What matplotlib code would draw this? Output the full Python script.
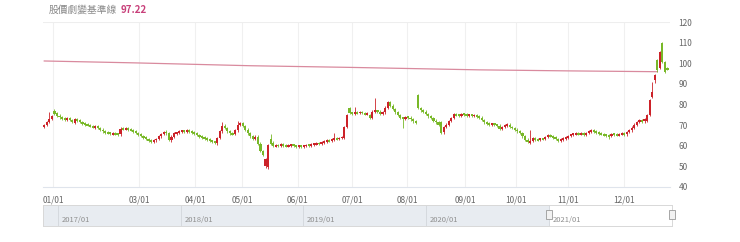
"""
Candlestick chart with baseline and navigator strip
"""

import numpy as np
import matplotlib.pyplot as plt
from matplotlib.patches import Rectangle

plt.rcParams['font.family'] = ['Noto Sans CJK TC', 'DejaVu Sans']

TITLE = "股價劇變基準線"
LAST_VALUE = "97.22"

# daily open / close, one entry per trading day
opens = [
    69.2, 70.0, 71.4, 73.0, 77.0, 75.8, 74.6, 73.8, 73.4, 72.8,
    73.4, 72.5, 71.2, 72.8, 72.2, 71.4, 70.8, 70.3, 70.0, 69.5,
    68.8, 69.4, 68.6, 67.8, 67.0, 66.5, 66.2, 65.8, 66.0, 65.6,
    65.5, 68.3, 68.0, 68.4, 67.9, 67.6, 67.0, 66.2, 65.5, 64.8,
    64.0, 63.3, 62.6, 62.0, 62.6, 63.4, 64.6, 65.6, 66.8, 66.0,
    62.6, 64.4, 66.0, 66.3, 66.8, 67.2, 66.9, 67.4, 67.0, 66.5,
    66.0, 65.2, 64.6, 64.0, 63.5, 63.0, 62.4, 61.9, 61.2, 64.0,
    67.0, 69.8, 68.5, 67.0, 66.0, 65.6, 67.5, 70.3, 70.8, 69.5,
    67.8, 66.0, 64.8, 63.2, 64.4, 61.0, 57.5, 50.0, 49.5, 63.5,
    61.5, 59.8, 60.3, 60.0, 60.5, 60.2, 59.8, 60.1, 60.4, 60.0,
    59.7, 59.9, 59.6, 59.9, 60.3, 60.1, 60.6, 60.9, 61.2, 61.0,
    61.6, 62.0, 62.6, 62.3, 63.0, 63.5, 63.2, 63.8, 64.0, 69.2,
    78.2, 76.0, 75.6, 76.2, 75.8, 76.4, 75.9, 75.3, 74.8, 73.5,
    76.5, 76.8, 76.5, 75.6, 76.2, 78.5, 81.0, 79.5, 77.8, 76.2,
    75.0, 73.5, 73.0, 74.0, 73.6, 72.8, 71.8, 84.5, 78.2, 77.2,
    76.5, 75.4, 74.2, 73.5, 72.2, 71.3, 71.5, 66.5, 69.0, 70.2,
    72.0, 73.5, 75.2, 75.0, 74.6, 75.3, 75.1, 74.7, 75.0, 74.5,
    74.8, 74.2, 73.6, 72.6, 71.3, 70.8, 70.4, 70.6, 70.1, 69.8,
    68.0, 69.2, 69.8, 70.2, 69.2, 68.5, 67.8, 67.0, 66.2, 64.5,
    63.0, 61.6, 62.4, 63.8, 63.0, 62.8, 63.4, 63.2, 64.2, 65.0,
    64.8, 64.0, 63.2, 62.6, 63.0, 63.5, 64.0, 64.8, 65.3, 65.7,
    65.9, 65.6, 66.0, 65.3, 66.2, 66.8, 67.4, 66.9, 66.4, 66.0,
    65.6, 65.2, 65.0, 64.8, 65.8, 65.4, 65.1, 65.6, 65.9, 65.5,
    66.6, 67.5, 68.8, 70.2, 71.6, 72.3, 71.8, 72.2, 75.0, 83.6,
    92.0, 101.6, 97.7, 110.0, 100.6, 97.6,
]
closes = [
    70.0, 71.4, 73.0, 74.4, 75.6, 74.6, 73.8, 73.2, 72.8, 73.4,
    72.5, 71.8, 72.8, 72.2, 71.4, 70.8, 70.3, 70.0, 69.5, 69.0,
    69.4, 68.6, 67.8, 67.0, 66.5, 66.2, 65.8, 66.0, 65.6, 65.4,
    68.3, 68.0, 68.4, 67.9, 67.6, 67.0, 66.2, 65.5, 64.8, 64.0,
    63.3, 62.6, 62.0, 62.6, 63.4, 64.6, 65.6, 66.6, 66.0, 63.0,
    64.4, 66.0, 66.3, 66.8, 67.2, 66.9, 67.4, 67.0, 66.5, 66.0,
    65.2, 64.6, 64.0, 63.5, 63.0, 62.4, 61.9, 61.4, 63.8, 67.0,
    69.8, 68.5, 67.0, 66.0, 65.6, 67.5, 70.3, 70.8, 69.5, 67.8,
    66.0, 64.5, 63.2, 64.4, 61.0, 57.5, 55.5, 53.5, 60.3, 61.0,
    59.8, 60.3, 60.0, 60.5, 60.2, 59.8, 60.1, 60.4, 60.0, 59.7,
    59.9, 59.6, 59.9, 60.3, 60.1, 60.6, 60.9, 61.2, 61.0, 61.6,
    62.0, 62.6, 62.3, 63.0, 63.5, 63.2, 63.8, 64.2, 69.0, 75.0,
    76.0, 75.6, 76.2, 75.8, 76.4, 75.9, 75.3, 75.7, 73.5, 76.5,
    76.8, 76.5, 75.6, 76.2, 78.5, 81.2, 79.5, 77.8, 76.2, 75.0,
    73.5, 73.0, 74.0, 73.6, 72.8, 71.8, 71.2, 78.2, 77.2, 76.5,
    75.4, 74.2, 73.5, 72.2, 71.3, 70.2, 66.2, 69.0, 70.2, 72.0,
    73.5, 75.2, 75.0, 74.6, 75.3, 75.1, 74.7, 75.0, 74.5, 74.8,
    74.2, 73.6, 72.6, 71.3, 70.8, 70.4, 70.6, 70.1, 69.8, 68.0,
    69.2, 69.8, 70.2, 69.2, 68.5, 67.8, 67.0, 66.2, 64.5, 63.0,
    62.0, 62.4, 63.8, 63.0, 62.8, 63.4, 63.2, 64.2, 65.0, 64.8,
    64.0, 63.2, 62.6, 63.0, 63.5, 64.0, 64.8, 65.3, 65.7, 65.9,
    65.6, 66.0, 65.3, 66.2, 66.8, 67.4, 66.9, 66.4, 66.0, 65.6,
    65.2, 65.0, 64.8, 65.8, 65.4, 65.1, 65.6, 65.9, 65.5, 66.6,
    67.5, 68.8, 70.2, 71.6, 72.3, 71.8, 73.0, 75.0, 82.2, 86.0,
    94.3, 96.5, 105.5, 100.5, 96.0, 97.22,
]
# days whose wick reaches well beyond the body
wick_highs = {2: 76.5, 70: 71.3, 76: 72.0, 89: 65.5, 114: 66.0, 122: 79.0,
              130: 83.0, 191: 67.5, 239: 91.0, 243: 110.5}
wick_lows = {141: 68.8, 222: 63.5, 240: 90.5}

# x-axis month ticks (trading-day index)
month_pos = [3.5, 37.3, 59.3, 77.8, 99.6, 121.0, 142.7, 165.5, 185.5, 206.0, 228.0]
month_labels = ["01/01", "03/01", "04/01", "05/01", "06/01", "07/01",
                "08/01", "09/01", "10/01", "11/01", "12/01"]

# baseline vertices
base_idx = [0, 35, 81, 120, 171, 206, 241]
base_val = [101.1, 100.2, 98.8, 98.0, 96.8, 96.3, 95.9]

# navigator strip
nav_years = [2017, 2018, 2019, 2020, 2021]
nav_start, nav_end = 2016.88, 2022.0
sel_start = 2021.0

RED = "#cc2229"
GREEN = "#78b828"

fig = plt.figure(figsize=(7.4, 2.42), dpi=100)
ax = fig.add_axes([43 / 740, 1 - 187 / 242, 627 / 740, 165 / 242])

o = np.array(opens)
c = np.array(closes)
idx = np.arange(len(c))
up = c >= o
colors = np.where(up, RED, GREEN)
hi = np.array([wick_highs.get(i, max(o[i], c[i]) + 0.6) for i in idx])
lo = np.array([wick_lows.get(i, min(o[i], c[i]) - 0.6) for i in idx])

ax.vlines(idx, lo, hi, colors=colors, linewidth=0.6, zorder=3)
body_h = np.maximum(np.abs(c - o), 0.9)
ax.bar(idx, body_h, bottom=np.minimum(o, c) - (body_h - np.abs(c - o)) / 2,
       width=0.85, color=colors, linewidth=0, zorder=4)

ax.plot(base_idx, base_val, color="#d98a9e", linewidth=0.9, zorder=2)

ax.set_xlim(-0.5, 246)
ax.set_ylim(40, 120)
ax.set_xticks(month_pos)
ax.set_xticklabels(month_labels)
ax.set_yticks(np.arange(40, 121, 10))
ax.yaxis.tick_right()
ax.tick_params(axis="both", length=0, labelsize=6, colors="#666666")
ax.tick_params(axis="x", pad=6)
ax.tick_params(axis="y", pad=6)
ax.grid(axis="x", color="#f0f0f0", linewidth=0.8)
ax.axhline(120, color="#eeeeee", linewidth=0.8)
for s in ["top", "left", "right"]:
    ax.spines[s].set_visible(False)
ax.spines["bottom"].set_color("#dfe4ec")
ax.spines["bottom"].set_linewidth(0.8)

fig.text(49 / 740, 1 - 10 / 242, TITLE, fontsize=7, color="#888888", va="center")
fig.text(121 / 740, 1 - 10 / 242, LAST_VALUE, fontsize=7, color="#c8407a",
         va="center", fontweight="bold")

# navigator
nav = fig.add_axes([43 / 740, 1 - 226 / 242, 629 / 740, 21 / 242])
nav.set_xlim(nav_start, nav_end)
nav.set_ylim(0, 1)
nav.axvspan(nav_start, sel_start, color="#e8ecf1", linewidth=0)
for yr in nav_years:
    nav.axvline(yr, color="#d5d9de", linewidth=0.7)
    nav.text(yr + 0.03, 0.18, f"{yr}/01", fontsize=5.5, color="#8f8f8f")
nav.set_xticks([])
nav.set_yticks([])
for s in nav.spines.values():
    s.set_color("#d8d8d8")
    s.set_linewidth(0.7)
for hx in [sel_start, nav_end]:
    nav.add_patch(Rectangle((hx - 0.022, 0.33), 0.044, 0.42, facecolor="#f2f2f2",
                            edgecolor="#999999", linewidth=0.6, clip_on=False, zorder=5))

fig.savefig("out.png", dpi=100)
